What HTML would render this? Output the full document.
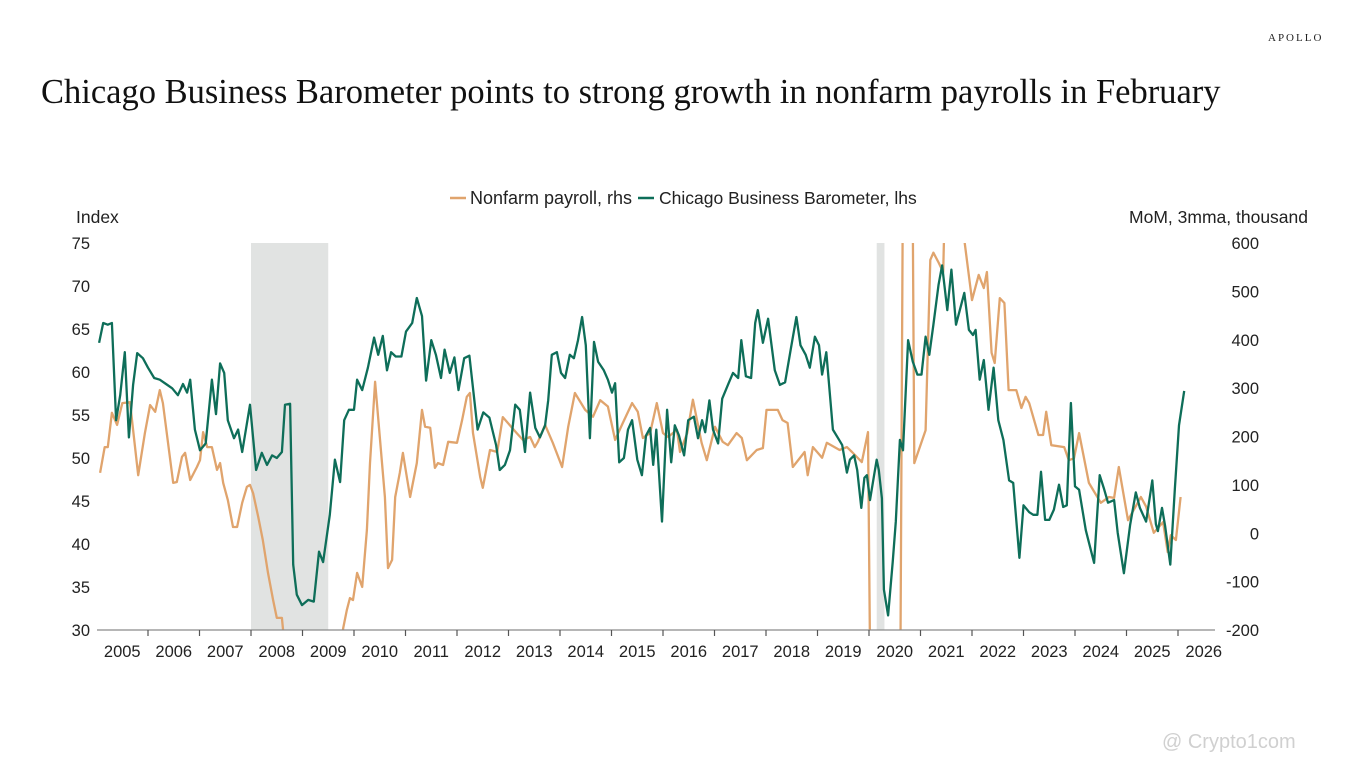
<!DOCTYPE html>
<html style="overflow:hidden;height:768px;"><head><meta charset="utf-8">
<style>
html,body{margin:0;padding:0;}
body{background:#fff;width:1366px;height:768px;overflow:hidden;position:relative;font-family:"Liberation Sans",sans-serif;}
#title{position:absolute;left:41px;top:72px;font-family:"Liberation Serif",serif;font-size:34.5px;color:#111;white-space:nowrap;margin:0;font-weight:normal;line-height:40px;}
#brand{position:absolute;left:1268px;top:31px;font-family:"Liberation Serif",serif;font-size:11px;letter-spacing:2px;color:#222;line-height:14px;}
#wm{position:absolute;left:1162px;top:730px;font-size:20px;color:#d0d0d0;line-height:24px;}
</style></head><body>
<div id="brand">APOLLO</div>
<h1 id="title">Chicago Business Barometer points to strong growth in nonfarm payrolls in February</h1>
<div id="wm">@ Crypto1com</div>
<svg id="chart" width="1366" height="768" style="position:absolute;left:0;top:0;display:block"></svg>
<script>
const years=[2005,2006,2007,2008,2009,2010,2011,2012,2013,2014,2015,2016,2017,2018,2019,2020,2021,2022,2023,2024,2025,2026];
const leftTicks=[30,35,40,45,50,55,60,65,70,75];
const rightTicks=[-200,-100,0,100,200,300,400,500,600];
const recessions=[[2008.0,2009.5],[2020.15,2020.3]];
const cbbDates=[2005.05,2005.13,2005.22,2005.30,2005.38,2005.46,2005.55,2005.63,2005.71,2005.79,2005.90,2006.00,2006.12,2006.23,2006.35,2006.47,2006.58,2006.68,2006.76,2006.82,2006.91,2007.01,2007.12,2007.24,2007.32,2007.40,2007.48,2007.55,2007.67,2007.75,2007.83,2007.98,2008.10,2008.21,2008.31,2008.41,2008.50,2008.60,2008.66,2008.76,2008.82,2008.89,2008.99,2009.11,2009.22,2009.32,2009.40,2009.53,2009.63,2009.73,2009.81,2009.90,2010.00,2010.06,2010.16,2010.27,2010.39,2010.47,2010.56,2010.64,2010.72,2010.81,2010.92,2011.01,2011.13,2011.22,2011.32,2011.40,2011.50,2011.59,2011.69,2011.76,2011.86,2011.95,2012.03,2012.14,2012.24,2012.40,2012.51,2012.63,2012.76,2012.83,2012.93,2013.03,2013.13,2013.22,2013.32,2013.42,2013.52,2013.61,2013.71,2013.77,2013.84,2013.94,2014.02,2014.10,2014.19,2014.27,2014.35,2014.43,2014.50,2014.58,2014.66,2014.74,2014.85,2014.93,2015.01,2015.07,2015.15,2015.24,2015.32,2015.40,2015.50,2015.59,2015.67,2015.75,2015.81,2015.87,2015.98,2016.08,2016.16,2016.23,2016.31,2016.41,2016.49,2016.60,2016.68,2016.76,2016.82,2016.90,2016.97,2017.07,2017.15,2017.26,2017.36,2017.46,2017.52,2017.61,2017.71,2017.79,2017.84,2017.94,2018.04,2018.17,2018.27,2018.37,2018.48,2018.59,2018.67,2018.77,2018.85,2018.95,2019.03,2019.09,2019.17,2019.30,2019.40,2019.48,2019.57,2019.63,2019.71,2019.77,2019.85,2019.91,2019.96,2020.02,2020.10,2020.15,2020.19,2020.25,2020.29,2020.37,2020.46,2020.52,2020.60,2020.66,2020.76,2020.85,2020.94,2021.02,2021.10,2021.17,2021.25,2021.35,2021.42,2021.52,2021.60,2021.69,2021.85,2021.94,2022.02,2022.07,2022.15,2022.23,2022.32,2022.42,2022.51,2022.61,2022.72,2022.80,2022.92,2023.00,2023.11,2023.19,2023.27,2023.34,2023.42,2023.50,2023.59,2023.69,2023.77,2023.84,2023.92,2024.00,2024.08,2024.21,2024.37,2024.48,2024.56,2024.64,2024.76,2024.83,2024.95,2025.07,2025.18,2025.26,2025.38,2025.50,2025.57,2025.61,2025.69,2025.75,2025.85,2025.94,2026.02,2026.12];
const cbbValues=[63.4,65.7,65.5,65.7,54.4,57.3,62.3,52.4,58.5,62.2,61.6,60.5,59.3,59.1,58.6,58.1,57.3,58.6,57.6,59.1,53.3,50.9,51.7,59.1,55.1,61.0,59.9,54.4,52.3,53.3,50.7,56.2,48.6,50.6,49.2,50.3,50.0,50.7,56.2,56.3,37.6,34.1,32.9,33.5,33.3,39.1,37.9,43.4,49.8,47.2,54.4,55.6,55.6,59.1,57.9,60.5,64.0,62.0,64.2,60.2,62.3,61.8,61.8,64.7,65.7,68.6,66.5,59.0,63.7,62.0,59.3,62.6,59.9,61.7,57.9,61.6,61.9,53.3,55.3,54.7,51.5,48.6,49.2,50.9,56.2,55.6,50.7,57.6,53.5,52.4,53.8,56.7,62.0,62.3,59.9,59.3,62.0,61.6,63.7,66.4,63.1,52.3,63.5,61.2,60.2,59.1,57.6,58.7,49.5,50.0,53.3,54.4,49.8,48.0,52.6,53.5,49.2,53.3,42.6,55.6,49.5,53.8,52.6,50.3,54.4,54.8,52.3,54.4,53.0,56.7,53.3,51.7,56.9,58.5,59.9,59.3,63.7,59.5,59.3,65.7,67.2,63.4,66.2,60.2,58.5,58.8,62.6,66.4,63.1,62.0,60.5,64.1,63.1,59.7,62.3,53.3,52.3,51.5,48.3,49.8,50.3,48.6,44.2,47.7,48.0,45.1,48.0,49.8,48.6,45.3,34.7,31.7,37.9,42.6,52.1,50.9,63.7,61.2,59.7,59.7,64.1,62.0,65.5,70.1,72.4,67.2,71.9,65.5,69.2,64.9,64.3,64.9,59.1,61.4,55.6,60.5,54.4,52.1,47.4,47.1,38.4,44.5,43.7,43.4,43.4,48.4,42.8,42.8,44.0,46.9,44.3,44.5,56.4,46.7,46.3,41.6,37.8,48.0,46.5,44.8,45.1,41.3,36.6,42.2,46.0,44.2,42.6,47.4,42.3,41.5,44.2,42.1,37.6,46.5,53.8,57.8];
const nfpDates=[2005.07,2005.16,2005.22,2005.30,2005.40,2005.50,2005.65,2005.81,2005.94,2006.04,2006.14,2006.23,2006.29,2006.49,2006.56,2006.66,2006.72,2006.82,2006.95,2007.01,2007.07,2007.15,2007.24,2007.34,2007.40,2007.46,2007.55,2007.65,2007.73,2007.83,2007.92,2007.98,2008.04,2008.14,2008.23,2008.33,2008.43,2008.50,2008.60,2008.62,2008.75,2008.90,2009.05,2009.20,2009.35,2009.50,2009.65,2009.79,2009.86,2009.92,2009.98,2010.06,2010.16,2010.25,2010.31,2010.41,2010.50,2010.60,2010.66,2010.74,2010.80,2010.89,2010.95,2011.09,2011.22,2011.32,2011.38,2011.48,2011.57,2011.63,2011.73,2011.83,2012.00,2012.10,2012.19,2012.25,2012.31,2012.45,2012.50,2012.64,2012.78,2012.89,2013.16,2013.28,2013.42,2013.51,2013.57,2013.71,2013.86,2014.04,2014.16,2014.29,2014.49,2014.64,2014.78,2014.93,2015.07,2015.22,2015.40,2015.51,2015.61,2015.75,2015.88,2016.00,2016.10,2016.27,2016.33,2016.47,2016.58,2016.75,2016.85,2017.01,2017.16,2017.26,2017.43,2017.53,2017.63,2017.82,2017.94,2018.01,2018.23,2018.32,2018.42,2018.52,2018.75,2018.81,2018.91,2019.09,2019.18,2019.43,2019.57,2019.67,2019.86,2019.98,2020.17,2020.27,2020.40,2020.55,2020.72,2020.80,2020.88,2021.10,2021.19,2021.25,2021.35,2021.44,2021.52,2021.62,2022.00,2022.13,2022.23,2022.29,2022.38,2022.44,2022.54,2022.63,2022.71,2022.86,2022.96,2023.04,2023.11,2023.29,2023.38,2023.44,2023.54,2023.79,2023.88,2023.98,2024.08,2024.27,2024.50,2024.66,2024.76,2024.85,2025.03,2025.28,2025.38,2025.53,2025.71,2025.80,2025.86,2025.96,2026.05,2026.11];
const nfpValues=[125,178,178,249,224,269,271,120,207,265,251,296,269,104,106,158,166,110,137,151,209,178,178,131,145,104,69,13,13,63,96,100,83,34,-14,-82,-138,-175,-175,-196,-350,-550,-700,-750,-650,-500,-320,-196,-159,-134,-138,-82,-111,7,145,313,199,75,-72,-55,75,125,166,75,145,255,220,218,135,145,141,189,187,234,282,290,207,116,94,172,168,240,207,193,199,178,189,224,187,137,220,290,255,241,275,262,193,228,269,251,197,207,269,207,199,214,168,207,276,187,151,220,189,182,207,197,151,172,176,255,255,234,228,137,168,120,178,156,187,172,178,168,147,209,-2000,-4500,-3000,-1500,2000,1500,145,213,565,580,560,540,900,800,482,534,507,540,373,352,486,476,296,296,259,282,269,203,203,251,182,178,151,155,207,104,63,75,73,137,27,75,55,1,23,-39,-4,-14,75];

const NS='http://www.w3.org/2000/svg';
const svg=document.getElementById('chart');
const X0=96.5,PX=51.5,YT=243,YB=630,XL=97,XR=1215;
const xs=t=>X0+(t-2005)*PX;
const yl=v=>YT+(75-v)*(YB-YT)/45;
const yr=v=>YT+(600-v)*(YB-YT)/800;
function mk(tag,attrs,parent){const e=document.createElementNS(NS,tag);for(const k in attrs)e.setAttribute(k,attrs[k]);(parent||svg).appendChild(e);return e;}

const defs=mk('defs',{});
const cp=mk('clipPath',{id:'plotclip'},defs);
mk('rect',{x:XL,y:YT,width:XR-XL,height:YB-YT},cp);

recessions.forEach((r,i)=>{
  const e=mk('rect',{x:xs(r[0]),y:YT,width:xs(r[1])-xs(r[0]),height:YB-YT,fill:'#e1e3e2'});
  
  
});

function line(dates,vals,yf,color,name){
  let d='';dates.forEach((t,i)=>{d+=(i?'L':'M')+xs(t).toFixed(1)+','+yf(vals[i]).toFixed(1);});
  const p=mk('path',{d:d,fill:'none',stroke:color,'stroke-width':2.3,'stroke-linejoin':'round','clip-path':'url(#plotclip)'});
  
  
}
line(nfpDates,nfpValues,yr,'#e0a46d','nonfarm-payroll-line');
line(cbbDates,cbbValues,yl,'#0e6e59','chicago-barometer-line');

const ax=mk('line',{x1:XL,y1:YB,x2:XR,y2:YB,stroke:'#8a8a8a','stroke-width':1.3});


years.forEach((y,i)=>{
  const x=xs(y);
  if(i>0){const tk=mk('line',{x1:x,y1:YB,x2:x,y2:YB+6,stroke:'#555','stroke-width':1.2});
  
  }
  const tx=mk('text',{x:x+PX/2,y:657,'text-anchor':'middle','font-size':16.5,fill:'#222'});
  tx.textContent=y;
  
  
});
leftTicks.forEach(v=>{
  const t=mk('text',{x:90,y:yl(v)+6,'text-anchor':'end','font-size':16.5,fill:'#222'});
  t.textContent=v;
  
  
});
rightTicks.forEach(v=>{
  const t=mk('text',{x:1259,y:yr(v)+6,'text-anchor':'end','font-size':16.5,fill:'#222'});
  t.textContent=v;
  
  
});
const lt=mk('text',{x:76,y:223,'font-size':17.5,fill:'#222'});lt.textContent='Index';


const rt=mk('text',{x:1308,y:223,'text-anchor':'end','font-size':17.5,fill:'#222'});rt.textContent='MoM, 3mma, thousand';



const l1=mk('line',{x1:450,y1:198,x2:466,y2:198,stroke:'#e0a46d','stroke-width':2.5});


const t1=mk('text',{x:470,y:204,'font-size':18,fill:'#222'});t1.textContent='Nonfarm payroll, rhs';


const l2=mk('line',{x1:638,y1:198,x2:654,y2:198,stroke:'#0e6e59','stroke-width':2.5});


const t2=mk('text',{x:659,y:204,'font-size':17.5,fill:'#222'});t2.textContent='Chicago Business Barometer, lhs';


</script>
</body></html>
